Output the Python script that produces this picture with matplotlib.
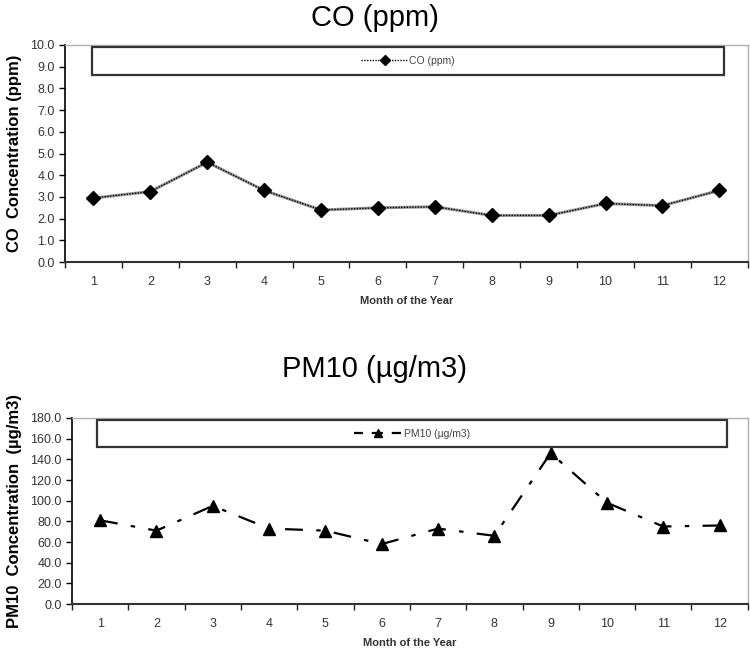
import matplotlib.pyplot as plt
from matplotlib.patches import Rectangle
from matplotlib.ticker import MultipleLocator, FixedLocator, NullFormatter

plt.rcParams['font.family'] = ['Liberation Sans', 'DejaVu Sans']

months = list(range(1, 13))
co_ppm = [2.95, 3.25, 4.6, 3.3, 2.4, 2.5, 2.55, 2.15, 2.15, 2.7, 2.6, 3.3]
pm10 = [81, 71, 95, 73, 71, 58, 73, 66, 146, 98, 75, 76]


def style_axes(ax, ymax, ystep):
    """Excel-like category axis"""
    ax.set_xlim(0.5, 12.5)
    ax.set_ylim(0, ymax)
    ax.yaxis.set_major_locator(MultipleLocator(ystep))
    ax.yaxis.set_major_formatter(plt.FormatStrFormatter('%.1f'))
    ax.set_xticks(months)
    ax.tick_params(axis='x', which='major', length=0, pad=10, labelsize=9, colors='#333333')
    ax.xaxis.set_minor_locator(FixedLocator([m + 0.5 for m in range(0, 13)]))
    ax.xaxis.set_minor_formatter(NullFormatter())
    ax.tick_params(axis='x', which='minor', length=4, width=1, color='#222222')
    ax.tick_params(axis='y', length=4, width=1, labelsize=9, colors='#333333')
    ax.tick_params(axis='y', color='black')
    ax.spines['left'].set_color('black')
    ax.spines['left'].set_linewidth(1.2)
    ax.spines['bottom'].set_color('#333333')
    ax.spines['bottom'].set_linewidth(1.5)
    for side in ['top', 'right']:
        ax.spines[side].set_color('#b0b0b0')
        ax.spines[side].set_linewidth(1.0)
    ax.set_xlabel('Month of the Year', fontsize=8, fontweight='bold', color='#333333', labelpad=6)


def legend_box(ax, x0, y0, x1, y1):
    box = Rectangle((x0, y0), x1 - x0, y1 - y0, transform=ax.transAxes,
                    facecolor='white', edgecolor='#333333', linewidth=1.6, zorder=3)
    ax.add_patch(box)
    return (x0 + x1) / 2, (y0 + y1) / 2


fig = plt.figure(figsize=(7.5, 6.52), dpi=100)

# CO plot
ax1 = fig.add_axes([0.0867, 0.598, 0.9103, 0.333])
ax1.plot(months, co_ppm, color='#999999', linewidth=2.2, zorder=4)
ax1.plot(months, co_ppm, color='black', linewidth=1.0, linestyle=(0, (1, 1)),
         marker='D', markersize=7, markerfacecolor='black', zorder=5, label='CO (ppm)')
style_axes(ax1, 10, 1)
ax1.set_ylabel('CO  Concentration (ppm)', fontsize=12, fontweight='bold', labelpad=6)
fig.text(0.5, 0.973, 'CO (ppm)', ha='center', va='center', fontsize=21)
cx, cy = legend_box(ax1, 0.0395, 0.862, 0.965, 0.991)
ax1.legend(loc='center', bbox_to_anchor=(cx, cy), frameon=False, fontsize=7.5,
           handlelength=4.5, handletextpad=0.1, labelcolor='#444444', markerscale=0.7)

# PM10 plot
ax2 = fig.add_axes([0.096, 0.0736, 0.901, 0.2853])
ax2.plot(months, pm10, color='black', linewidth=1.6, linestyle=(0, (8, 6, 2, 6)),
         marker='^', markersize=9, markerfacecolor='black', label='PM10 (µg/m3)')
style_axes(ax2, 180, 20)
ax2.set_ylabel('PM10  Concentration  (µg/m3)', fontsize=12, fontweight='bold', labelpad=6)
fig.text(0.5, 0.434, 'PM10 (µg/m3)', ha='center', va='center', fontsize=21)
cx, cy = legend_box(ax2, 0.037, 0.844, 0.970, 0.989)
leg_line = plt.Line2D([], [], color='black', linewidth=1.6, linestyle=(1, (5, 4)),
                      marker='^', markersize=6.3, markerfacecolor='black')
ax2.legend([leg_line], ['PM10 (µg/m3)'], loc='center', bbox_to_anchor=(cx, cy),
           frameon=False, fontsize=7.5, handlelength=4.5, handletextpad=0.3,
           labelcolor='#444444')

fig.savefig('out.png', dpi=100)
